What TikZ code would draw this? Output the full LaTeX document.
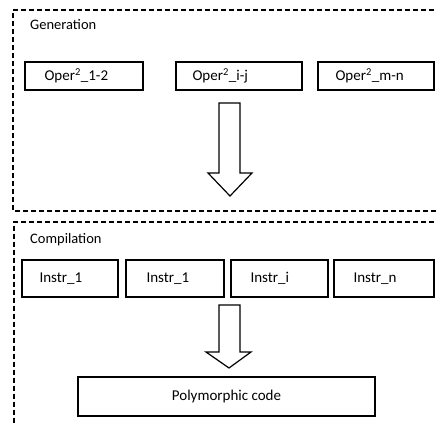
\documentclass[tikz,border=0pt]{standalone}
\usepackage{fontspec}
\setmainfont{Carlito}
\begin{document}
\begin{tikzpicture}[x=1pt,y=-1pt,
  group/.style={draw, line width=1.4pt, dash pattern=on 5pt off 3pt},
  item/.style={draw, line width=1.3pt, inner sep=0pt},
  lbl/.style={font=\fontsize{14.5}{16}\selectfont, anchor=west, inner sep=0pt},
  boxtext/.style={font=\fontsize{15}{17}\selectfont},
  blockarrow/.style={draw, line width=1.2pt, fill=white, line join=miter}]
\useasboundingbox (0,0) rectangle (436,425);
% groups
\draw[group] (450,10) -- (13,10) -- (13,211) -- (450,211);
\draw[group] (450,222) -- (14,222) -- (14,440);
\node[lbl] (gen) at (30,25) {Generation};
\node[lbl] (comp) at (30,240) {Compilation};
% generation items
\node[item, minimum width=118pt, minimum height=28pt] (o1) at (84,76) {};
\node[boxtext, anchor=west] (o1t) at (41,76) {Oper\textsuperscript{2}\_1-2};
\node[item, minimum width=126pt, minimum height=28pt] (o2) at (239,76) {};
\node[boxtext, anchor=west] (o2t) at (189,76) {Oper\textsuperscript{2}\_i-j};
\node[item, minimum width=116pt, minimum height=28pt] (o3) at (376,76) {};
\node[boxtext, anchor=west] (o3t) at (332,76) {Oper\textsuperscript{2}\_m-n};
% compilation items
\node[item, minimum width=96pt, minimum height=37pt] (i1) at (70,278.5) {};
\node[boxtext, anchor=west] (i1t) at (36,278.5) {Instr\_1};
\node[item, minimum width=98pt, minimum height=37pt] (i2) at (175,278.5) {};
\node[boxtext, anchor=west] (i2t) at (143,278.5) {Instr\_1};
\node[item, minimum width=97pt, minimum height=37pt] (i3) at (279.5,278.5) {};
\node[boxtext, anchor=west] (i3t) at (247,278.5) {Instr\_i};
\node[item, minimum width=100pt, minimum height=37pt] (i4) at (384,278.5) {};
\node[boxtext, anchor=west] (i4t) at (350,278.5) {Instr\_n};
% result
\node[item, minimum width=297pt, minimum height=39pt, boxtext] (poly) at (226.5,396.5) {Polymorphic code};
% block arrows
\draw[blockarrow] (219,103) -- (240,103) -- (240,173) -- (252,173) -- (230,196) -- (208,173) -- (219,173) -- cycle;
\draw[blockarrow] (219,305) -- (240,305) -- (240,352) -- (251,352) -- (229,368) -- (206,352) -- (219,352) -- cycle;
\end{tikzpicture}
\end{document}
